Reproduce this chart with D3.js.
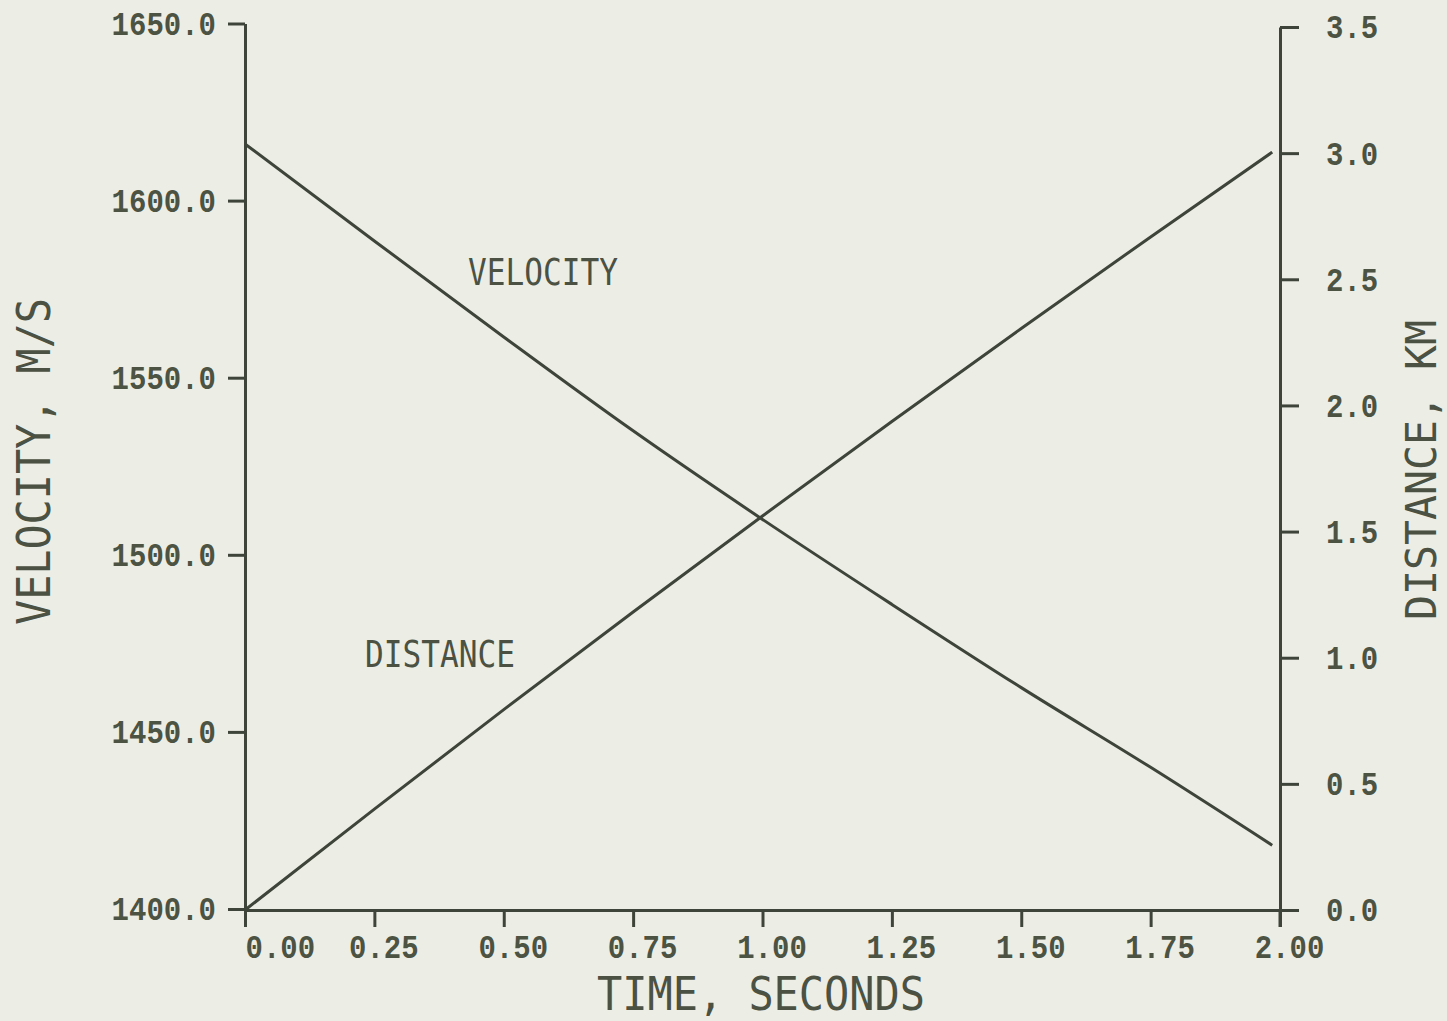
<!DOCTYPE html>
<html>
<head>
<meta charset="utf-8">
<script src="https://cdn.jsdelivr.net/npm/d3@7"></script>
<style>
  body { margin: 0; background: #eceee6; }
  svg { display: block; }
  .tick-label { font-family: "Liberation Mono", "DejaVu Sans Mono", monospace; font-weight: bold; fill: #4d5343; }
  .title { font-family: "DejaVu Sans Mono", monospace; fill: #4b5143; }
</style>
</head>
<body>
<div id="chart"></div>
<script>
// values
const timeS = [0, 0.25, 0.5, 0.75, 1.0, 1.25, 1.5, 1.75, 1.985];
const velocityMS = [1616, 1588.6, 1561.5, 1535, 1510, 1486, 1462.5, 1440, 1418];
const distanceKM = [0, 0.40, 0.794, 1.181, 1.562, 1.936, 2.305, 2.668, 3.004];

const timeTicks = [0, 0.25, 0.5, 0.75, 1.0, 1.25, 1.5, 1.75, 2.0];
const velocityTicks = [1400, 1450, 1500, 1550, 1600, 1650];
const distanceTicks = [0, 0.5, 1.0, 1.5, 2.0, 2.5, 3.0, 3.5];

const W = 1447, H = 1021;
const ink = "#3e4439";

const svg = d3.select("#chart").append("svg")
    .attr("width", W)
    .attr("height", H)
    .style("background", "#eceee6");

// scales
const x = d3.scaleLinear().domain([0, 2]).range([245, 1280]);
const yV = d3.scaleLinear().domain([1400, 1650]).range([909, 23.5]);
const yD = d3.scaleLinear().domain([0, 3.5]).range([910, 27]);

function styleAxis(g) {
    g.select(".domain").attr("stroke", ink).attr("stroke-width", 3);
    g.selectAll(".tick line").attr("stroke", ink).attr("stroke-width", 3);
    g.selectAll(".tick text")
        .attr("class", "tick-label")
        .attr("fill", null)
        .style("font-size", "34px")
        // plotter digits are narrow, squeeze them
        .attr("textLength", function() { return this.textContent.length * 17.4; })
        .attr("lengthAdjust", "spacingAndGlyphs");
}

// x axis
svg.append("g")
    .attr("transform", "translate(0,910)")
    .call(d3.axisBottom(x).tickValues(timeTicks).tickFormat(d3.format(".2f"))
        .tickSize(17).tickSizeOuter(0))
    .attr("font-family", null).attr("font-size", null)
    .call(styleAxis)
    .call(g => g.selectAll(".tick text")
        .attr("y", 48).attr("dy", 0)
        .attr("dx", 9)
        .filter(d => d === 0)
        .attr("text-anchor", "start").attr("dx", 0));

// left axis (velocity)
svg.append("g")
    .attr("transform", "translate(245,0)")
    .call(d3.axisLeft(yV).tickValues(velocityTicks).tickFormat(d3.format(".1f"))
        .tickSize(17).tickPadding(12).tickSizeOuter(0))
    .attr("font-family", null).attr("font-size", null)
    .call(styleAxis);

// right axis (distance)
svg.append("g")
    .attr("transform", "translate(1280,0)")
    .call(d3.axisRight(yD).tickValues(distanceTicks).tickFormat(d3.format(".1f"))
        .tickSize(19).tickPadding(27).tickSizeOuter(0))
    .attr("font-family", null).attr("font-size", null)
    .call(styleAxis);

// the right axis runs down to the end of the 2.00 tick
svg.append("line")
    .attr("x1", x(2)).attr("x2", x(2))
    .attr("y1", yD(0)).attr("y2", yD(0) + 17)
    .attr("stroke", ink).attr("stroke-width", 3);

// curves
const velLine = d3.line()
    .x((d, i) => x(timeS[i]))
    .y(d => yV(d))
    .curve(d3.curveMonotoneX);

const distLine = d3.line()
    .x((d, i) => x(timeS[i]))
    .y(d => yD(d))
    .curve(d3.curveMonotoneX);

svg.append("path")
    .datum(velocityMS)
    .attr("d", velLine)
    .attr("fill", "none")
    .attr("stroke", ink)
    .attr("stroke-width", 3);

svg.append("path")
    .datum(distanceKM)
    .attr("d", distLine)
    .attr("fill", "none")
    .attr("stroke", ink)
    .attr("stroke-width", 3);

// curve labels
svg.append("text")
    .attr("class", "title")
    .attr("x", 468).attr("y", 285)
    .attr("textLength", 150).attr("lengthAdjust", "spacingAndGlyphs")
    .style("font-size", "37px")
    .text("VELOCITY");

svg.append("text")
    .attr("class", "title")
    .attr("x", 365).attr("y", 667)
    .attr("textLength", 150).attr("lengthAdjust", "spacingAndGlyphs")
    .style("font-size", "37px")
    .text("DISTANCE");

// axis titles
svg.append("text")
    .attr("class", "title")
    .attr("x", 597).attr("y", 1010)
    .attr("textLength", 328).attr("lengthAdjust", "spacingAndGlyphs")
    .style("font-size", "46px")
    .text("TIME, SECONDS");

svg.append("text")
    .attr("class", "title")
    .attr("transform", "translate(50,625) rotate(-90)")
    .attr("textLength", 327).attr("lengthAdjust", "spacingAndGlyphs")
    .style("font-size", "46px")
    .text("VELOCITY, M/S");

svg.append("text")
    .attr("class", "title")
    .attr("transform", "translate(1436,620) rotate(-90)")
    .attr("textLength", 300).attr("lengthAdjust", "spacingAndGlyphs")
    .style("font-size", "42px")
    .text("DISTANCE, KM");
</script>
</body>
</html>
